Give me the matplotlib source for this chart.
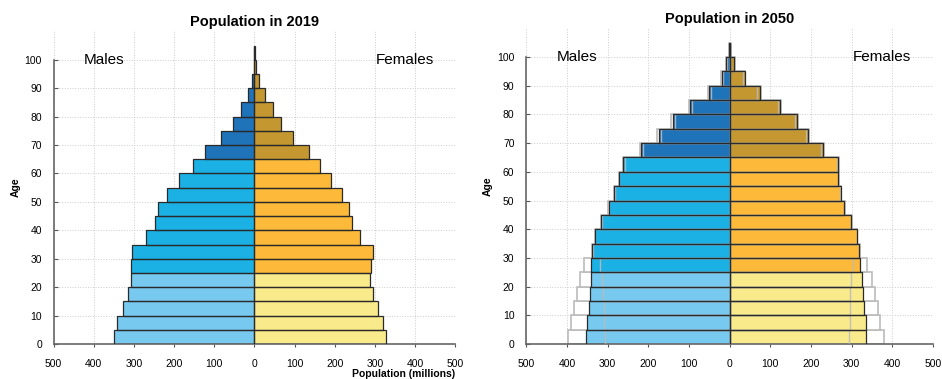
import numpy as np
import matplotlib.pyplot as plt

plt.rcParams['font.family'] = ['Liberation Sans', 'DejaVu Sans']

# 5-year age groups, 0-4 ... 100+
ages = np.arange(0, 101, 5)

male_2019 = [349, 342, 328, 314, 307, 308, 305, 270, 247, 240, 219, 187, 153, 124, 84, 53, 34, 16, 6, 1.5, 0.4]
female_2019 = [328, 320, 307, 294, 288, 289, 294, 262, 243, 236, 219, 190, 162, 136, 96, 67, 47, 27, 12, 4.5, 0.6]

male_2050 = [353, 350, 347, 344, 340, 340, 338, 331, 316, 297, 284, 272, 261, 217, 174, 140, 97, 51, 19, 8, 1.2]
female_2050 = [336, 335, 331, 328, 325, 321, 319, 313, 299, 282, 273, 267, 267, 229, 193, 166, 124, 74, 37, 11.5, 2]

# projection range for 2050 (upper / lower)
male_2050_hi = [398, 390, 382, 375, 368, 358, 339, 332, 317, 298, 285, 273, 263, 220, 178, 144, 99, 53, 21, 9, 1.5]
male_2050_lo = [307, 308, 310, 311, 313, 319, 337, 330, 315, 296, 283, 271, 258, 213, 169, 134, 92, 45, 17, 7, 0.8]
female_2050_hi = [380, 371, 364, 357, 350, 339, 320, 314, 300, 283, 274, 268, 269, 232, 196, 169, 127, 77, 39, 13, 2.5]
female_2050_lo = [294, 295, 296, 297, 299, 303, 318, 312, 298, 281, 272, 266, 265, 225, 189, 161, 119, 68, 34, 10, 1.5]

male_colors = ['#77c9f0', '#1bb1e5', '#1f73b9']
female_colors = ['#f9ea8b', '#fdba3a', '#c49731']


def group_colors(palette):
    # young (<25), working age (25-64), old (65+)
    return [palette[0] if a < 25 else palette[1] if a < 65 else palette[2] for a in ages]


def setup_axes(ax, title, xlabel=False):
    ax.set_xlim(-500, 500)
    ax.set_ylim(0, 110)
    ax.set_xticks(range(-500, 501, 100))
    ax.set_xticklabels([str(abs(v)) for v in range(-500, 501, 100)], fontsize=7.5)
    ax.set_yticks(range(0, 101, 10))
    ax.set_yticklabels([str(v) for v in range(0, 101, 10)], fontsize=7.5)
    ax.tick_params(axis='y', direction='in', length=3, color='#555555', pad=8.5)
    ax.tick_params(axis='x', direction='out', length=2.5, color='#555555', pad=8)
    ax.grid(True, linestyle=':', color='#cccccc', linewidth=0.7)
    ax.set_axisbelow(True)
    for s in ['top', 'right']:
        ax.spines[s].set_visible(False)
    for s in ['left', 'bottom']:
        ax.spines[s].set_color('#666666')
        ax.spines[s].set_linewidth(1.2)
    ax.spines['left'].set_bounds(0, 100)
    ax.set_title(title, fontsize=10.5, fontweight='bold', pad=4)
    ax.set_ylabel('Age', fontsize=7.5, fontweight='bold', labelpad=3)
    if xlabel:
        ax.set_xlabel('Population (millions)', fontsize=7.5, fontweight='bold',
                      loc='right', labelpad=0)
    ax.text(-375, 100, 'Males', fontsize=11, ha='center', va='center')
    ax.text(375, 100, 'Females', fontsize=11, ha='center', va='center')


def draw_pyramid(ax, males, females):
    m = -np.array(males)
    f = np.array(females)
    ax.barh(ages, m, height=5, align='edge', color=group_colors(male_colors),
            linewidth=0, zorder=2)
    ax.barh(ages, f, height=5, align='edge', color=group_colors(female_colors),
            linewidth=0, zorder=2)
    ax.barh(ages, m, height=5, align='edge', fill=False, edgecolor='#2a2a2a',
            linewidth=0.9, zorder=4)
    ax.barh(ages, f, height=5, align='edge', fill=False, edgecolor='#2a2a2a',
            linewidth=0.9, zorder=4)


fig = plt.figure(figsize=(9.42, 3.79), dpi=100)
ax1 = fig.add_axes([0.057, 0.0923, 0.4263, 0.825])
ax2 = fig.add_axes([0.5587, 0.0923, 0.4317, 0.833])

draw_pyramid(ax1, male_2019, female_2019)
setup_axes(ax1, 'Population in 2019', xlabel=True)

# upper bound behind with white fill, lower bound as thin outline on top
ax2.barh(ages, -np.array(male_2050_hi), height=5, align='edge', color='white',
         edgecolor='#bbbbbb', linewidth=1.2, zorder=1.5)
ax2.barh(ages, female_2050_hi, height=5, align='edge', color='white',
         edgecolor='#bbbbbb', linewidth=1.2, zorder=1.5)
draw_pyramid(ax2, male_2050, female_2050)
ax2.barh(ages, -np.array(male_2050_lo), height=5, align='edge', fill=False,
         edgecolor='#bbbbbb', linewidth=1.0, alpha=0.9, zorder=3)
ax2.barh(ages, female_2050_lo, height=5, align='edge', fill=False,
         edgecolor='#bbbbbb', linewidth=1.0, alpha=0.9, zorder=3)
setup_axes(ax2, 'Population in 2050')

fig.savefig('out.png', dpi=100)
